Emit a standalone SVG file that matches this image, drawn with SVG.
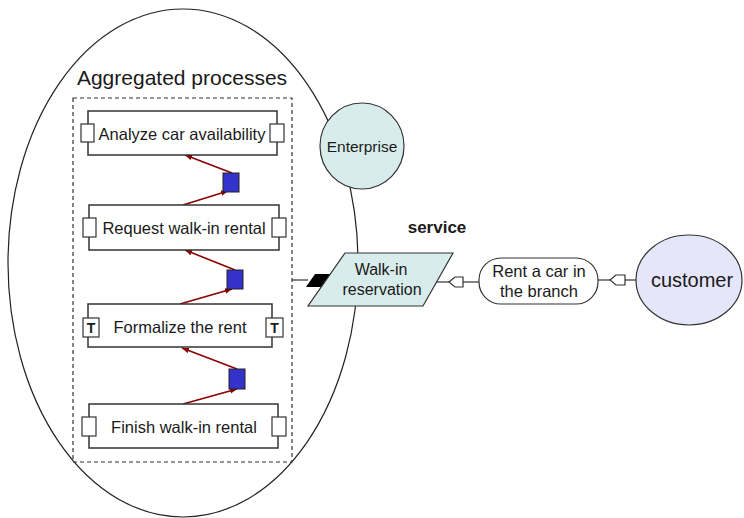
<svg xmlns="http://www.w3.org/2000/svg" width="744" height="518" viewBox="0 0 744 518">
<style>
text{font-family:"Liberation Sans",Arial,sans-serif;fill:#1a1a1a}
.box{fill:#fff;stroke:#333;stroke-width:1.5}
.port{fill:#fff;stroke:#333;stroke-width:1.2}
.bt{font-size:16.5px;text-anchor:middle}
.sq{fill:#3333cc;stroke:#222;stroke-width:1}
.arr{stroke:#8b0000;stroke-width:1.6;fill:none;marker-end:url(#ah)}
.ln{stroke:#333;stroke-width:1.2;fill:none}
.cy{fill:#d8ecec;stroke:#333;stroke-width:1.2}
.tt{font-size:14px;font-weight:bold;text-anchor:middle}
</style>
<defs>
<marker id="ah" viewBox="0 0 10 10" refX="10" refY="5" markerWidth="7" markerHeight="7" orient="auto" markerUnits="userSpaceOnUse">
<path d="M0,1 L10,5 L0,9 z" fill="#8b0000"/>
</marker>
</defs>
<g id="scope">
<ellipse cx="183" cy="263" rx="175" ry="254" fill="#fff" stroke="#222" stroke-width="1.2"/>
<text x="182" y="85" font-size="21" text-anchor="middle">Aggregated processes</text>
<rect x="73" y="98" width="219" height="364" fill="none" stroke="#333" stroke-width="1.2" stroke-dasharray="4,3"/>
</g>
<g id="connectors">
<line class="arr" x1="232" y1="173" x2="185" y2="155"/>
<line class="arr" x1="183" y1="205" x2="228" y2="191"/>
<line class="arr" x1="235" y1="270" x2="185" y2="250"/>
<line class="arr" x1="180" y1="304" x2="232" y2="289"/>
<line class="arr" x1="237" y1="369" x2="182" y2="348"/>
<line class="arr" x1="183" y1="404" x2="237" y2="389"/>
<line class="ln" x1="292" y1="280" x2="308" y2="280"/>
<polygon points="315,274 331,274 322,287 306,287" fill="#000"/>
<line class="ln" x1="436" y1="282" x2="449" y2="282"/>
<polygon points="449,282 455,277 463,277 463,287 455,287" fill="#fff" stroke="#333" stroke-width="1.2"/>
<line class="ln" x1="463" y1="282" x2="479" y2="282"/>
<line class="ln" x1="598" y1="280" x2="610" y2="280"/>
<polygon points="610,280 616,275 625,275 625,285 616,285" fill="#fff" stroke="#333" stroke-width="1.2"/>
<line class="ln" x1="625" y1="280" x2="636" y2="280"/>
</g>
<g id="analyze">
<rect class="box" x="88" y="111" width="189" height="44"/>
<rect class="port" x="81" y="124" width="13" height="18"/>
<rect class="port" x="270" y="124" width="14" height="18"/>
<text class="bt" x="182" y="140">Analyze car availability</text>
</g>
<g id="conn1"><rect class="sq" x="223" y="173" width="16" height="19"/></g>
<g id="request">
<rect class="box" x="89" y="205" width="190" height="45"/>
<rect class="port" x="83" y="218" width="13" height="19"/>
<rect class="port" x="272" y="218" width="14" height="19"/>
<text class="bt" x="184" y="234">Request walk-in rental</text>
</g>
<g id="conn2"><rect class="sq" x="227" y="270" width="16" height="19"/></g>
<g id="formalize">
<rect class="box" x="88" y="304" width="184" height="43"/>
<rect class="port" x="83" y="318" width="16" height="19"/>
<text class="tt" x="91" y="333">T</text>
<rect class="port" x="266" y="318" width="17" height="19"/>
<text class="tt" x="274.5" y="333">T</text>
<text class="bt" x="180" y="333">Formalize the rent</text>
</g>
<g id="conn3"><rect class="sq" x="229" y="369" width="16" height="20"/></g>
<g id="finish">
<rect class="box" x="89" y="404" width="189" height="44"/>
<rect class="port" x="82" y="417" width="14" height="19"/>
<rect class="port" x="272" y="417" width="14" height="19"/>
<text class="bt" x="184" y="433">Finish walk-in rental</text>
</g>
<g id="enterprise">
<ellipse class="cy" cx="362" cy="146" rx="42" ry="43"/>
<text x="362" y="152" font-size="15.5" text-anchor="middle">Enterprise</text>
</g>
<g id="walkin">
<polygon class="cy" points="345,253 453,253 423,306 308,306"/>
<text x="381" y="275" font-size="16" text-anchor="middle">Walk-in</text>
<text x="382" y="295" font-size="16" text-anchor="middle">reservation</text>
</g>
<text x="437" y="233" font-size="17" font-weight="bold" text-anchor="middle">service</text>
<g id="rent">
<rect x="479" y="258" width="119" height="46" rx="22" ry="22" fill="#fff" stroke="#333" stroke-width="1.2"/>
<text x="539" y="277" font-size="16.5" text-anchor="middle">Rent a car in</text>
<text x="539" y="297" font-size="16.5" text-anchor="middle">the branch</text>
</g>
<g id="customer">
<ellipse cx="689" cy="280" rx="53" ry="45" fill="#e6e6fa" stroke="#333" stroke-width="1.2"/>
<text x="692" y="287" font-size="20" text-anchor="middle">customer</text>
</g>
</svg>
